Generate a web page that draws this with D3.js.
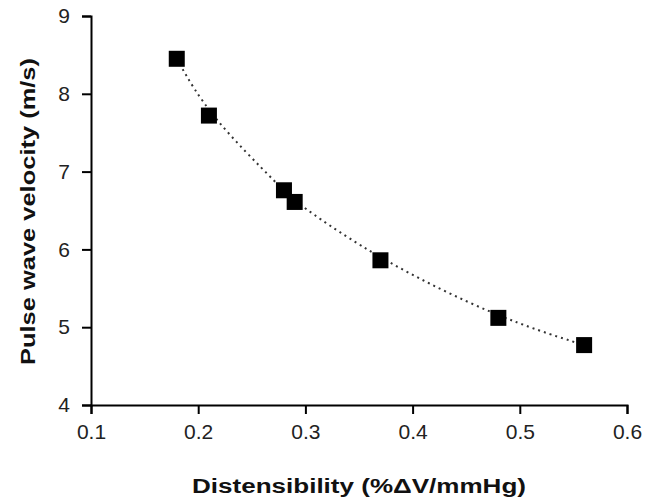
<!DOCTYPE html>
<html>
<head>
<meta charset="utf-8">
<script src="https://cdn.jsdelivr.net/npm/d3@7"></script>
<style>
  body { margin: 0; background: #fff; }
  svg { display: block; }
</style>
</head>
<body>
<div id="chart"></div>
<script>
// data
var distensibility = [0.18, 0.21, 0.28, 0.29, 0.37, 0.48, 0.56]
var velocity = [8.45, 7.72, 6.76, 6.61, 5.86, 5.12, 4.77]
var xTicks = [0.1, 0.2, 0.3, 0.4, 0.5, 0.6]
var yTicks = [4, 5, 6, 7, 8, 9]

var W = 648, H = 502
var margin = { top: 16, right: 21, bottom: 97, left: 91 }
var width = W - margin.left - margin.right,
    height = H - margin.top - margin.bottom

var points = distensibility.map(function (d, i) { return { x: d, y: velocity[i] } })

var svg = d3.select("#chart")
    .append("svg")
    .attr("width", W)
    .attr("height", H)

var g = svg.append("g")
    .attr("transform", "translate(" + margin.left + "," + margin.top + ")")

var xScale = d3.scaleLinear().domain([0.1, 0.6]).range([0, width])
var yScale = d3.scaleLinear().domain([4, 9]).range([height, 0])

// X axis
var xAxis = g.append("g")
    .attr("transform", "translate(0," + height + ")")
    .call(d3.axisBottom(xScale).tickValues(xTicks).tickSize(9).tickSizeOuter(9)
        .tickFormat(d3.format(".1f")))

// Y axis
var yAxis = g.append("g")
    .call(d3.axisLeft(yScale).tickValues(yTicks).tickSize(9).tickSizeOuter(9)
        .tickFormat(d3.format("d")))

g.selectAll(".domain").attr("stroke", "#000").attr("stroke-width", 2)
g.selectAll(".tick line").attr("stroke", "#000").attr("stroke-width", 2)
g.selectAll(".tick text")
    .attr("fill", "#222")
    .style("font-family", "'Liberation Sans', Arial, sans-serif")
    .style("font-size", "21px")

xAxis.selectAll(".tick text").attr("y", 19).attr("dy", "0.71em")
yAxis.selectAll(".tick text").attr("x", -21)

// trend line (dotted)
var line = d3.line()
    .x(function (d) { return xScale(d.x) })
    .y(function (d) { return yScale(d.y) })
    .curve(d3.curveBasis)

g.append("path")
    .datum(points)
    .attr("d", line)
    .attr("fill", "none")
    .attr("stroke", "#333")
    .attr("stroke-width", 2)
    .attr("stroke-dasharray", "2,4")

// square markers
var size = 16
g.selectAll("mysquares")
    .data(points)
    .enter()
    .append("rect")
    .attr("x", function (d) { return xScale(d.x) - size / 2 })
    .attr("y", function (d) { return yScale(d.y) - size / 2 })
    .attr("width", size)
    .attr("height", size)
    .style("fill", "#000")

// X axis title
svg.append("text")
    .attr("x", 359)
    .attr("y", 493)
    .attr("text-anchor", "middle")
    .attr("textLength", 334)
    .attr("lengthAdjust", "spacingAndGlyphs")
    .style("font-family", "'Liberation Sans', Arial, sans-serif")
    .style("font-weight", "bold")
    .style("font-size", "20px")
    .attr("fill", "#111")
    .text("Distensibility (%ΔV/mmHg)")

// Y axis title
svg.append("text")
    .attr("transform", "translate(35,211.5) rotate(-90)")
    .attr("text-anchor", "middle")
    .attr("textLength", 307)
    .attr("lengthAdjust", "spacingAndGlyphs")
    .style("font-family", "'Liberation Sans', Arial, sans-serif")
    .style("font-weight", "bold")
    .style("font-size", "20px")
    .attr("fill", "#111")
    .text("Pulse wave velocity (m/s)")
</script>
</body>
</html>
